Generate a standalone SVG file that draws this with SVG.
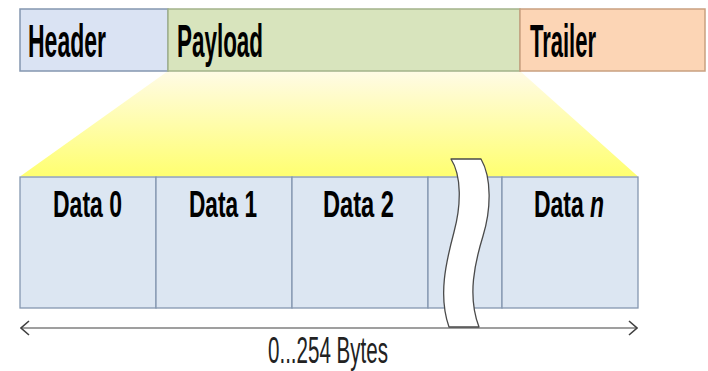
<svg xmlns="http://www.w3.org/2000/svg" width="708" height="371" viewBox="0 0 708 371">
  <defs>
    <linearGradient id="fan" x1="0" y1="0" x2="0" y2="1">
      <stop offset="0" stop-color="#fffbe6"/>
      <stop offset="1" stop-color="#ffff70"/>
    </linearGradient>
    <marker id="head" viewBox="0 0 10 16" refX="9" refY="8" markerWidth="10" markerHeight="16" markerUnits="userSpaceOnUse" orient="auto-start-reverse">
      <path d="M1,1 L9,8 L1,15" fill="none" stroke="#404040" stroke-width="1.6"/>
    </marker>
  </defs>
  <style>
    .lbl { font-family: "Liberation Sans", Arial, sans-serif; font-weight: bold; fill: #000; }
    .top { font-size: 47px; }
    .cell { font-size: 37px; }
    .cellbox { fill: #dce6f2; stroke: #8497b0; stroke-width: 1.3; }
    .note { font-family: "Liberation Sans", Arial, sans-serif; font-size: 37px; fill: #222; }
  </style>

  <!-- expansion of the payload into the data cells -->
  <polygon id="fan-out" points="168,71 520,71 638,176.5 20,176.5" fill="url(#fan)"/>

  <!-- frame: header / payload / trailer -->
  <g id="header">
    <rect x="20" y="9" width="148" height="62" fill="#dae3f3" stroke="#8497b0" stroke-width="1.5"/>
    <text class="lbl top" x="28" y="57" textLength="78" lengthAdjust="spacingAndGlyphs">Header</text>
  </g>
  <g id="payload">
    <rect x="168" y="9" width="352" height="62" fill="#d8e4bd" stroke="#a3b38a" stroke-width="1.5"/>
    <text class="lbl top" x="177" y="57" textLength="86" lengthAdjust="spacingAndGlyphs">Payload</text>
  </g>
  <g id="trailer">
    <rect x="520" y="9" width="185" height="62" fill="#fcd5b5" stroke="#c9a080" stroke-width="1.5"/>
    <text class="lbl top" x="530" y="57" textLength="66" lengthAdjust="spacingAndGlyphs">Trailer</text>
  </g>

  <!-- data cells -->
  <g id="data0">
    <rect class="cellbox" x="20" y="177" width="136" height="131"/>
    <text class="lbl cell" x="53" y="217" textLength="69" lengthAdjust="spacingAndGlyphs">Data 0</text>
  </g>
  <g id="data1">
    <rect class="cellbox" x="156" y="177" width="136" height="131"/>
    <text class="lbl cell" x="189" y="217" textLength="68" lengthAdjust="spacingAndGlyphs">Data 1</text>
  </g>
  <g id="data2">
    <rect class="cellbox" x="292" y="177" width="136" height="131"/>
    <text class="lbl cell" x="323" y="217" textLength="71" lengthAdjust="spacingAndGlyphs">Data 2</text>
  </g>
  <g id="data-gap">
    <rect class="cellbox" x="428" y="177" width="74" height="131"/>
  </g>
  <g id="datan">
    <rect class="cellbox" x="502" y="177" width="136" height="131"/>
    <text class="lbl cell" transform="translate(534,217) scale(0.62,1)">Data <tspan font-style="italic">n</tspan></text>
  </g>

  <!-- length dimension -->
  <g id="connectors">
    <line x1="21" y1="328" x2="637" y2="328" stroke="#7f7f7f" stroke-width="1.5" marker-start="url(#head)" marker-end="url(#head)"/>
  </g>

  <!-- break symbol -->
  <g id="break">
    <path d="M451,159 L481,159 C492,178 491,210 483,236 C475,262 467,296 479,327 L449,327 C438,296 446,262 454,232 C461,206 462,176 451,159 Z" fill="#ffffff" stroke="#4a4a4a" stroke-width="1.3" stroke-linejoin="round"/>
  </g>

  <g id="length-label">
    <text class="note" x="268" y="363" textLength="120" lengthAdjust="spacingAndGlyphs">0...254 Bytes</text>
  </g>
</svg>
